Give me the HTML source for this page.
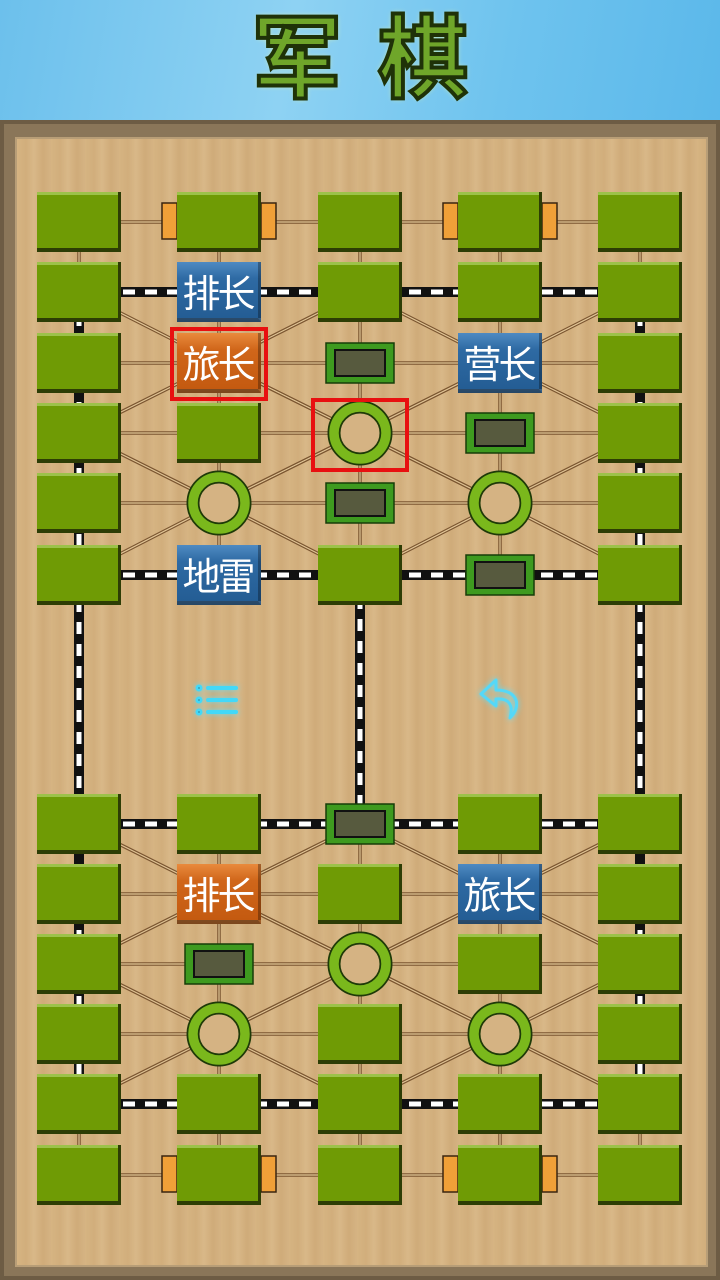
<!DOCTYPE html>
<html><head><meta charset="utf-8">
<style>
html,body{margin:0;padding:0;width:720px;height:1280px;overflow:hidden;background:#7d6b52}
#hdr{position:absolute;left:0;top:0;width:720px;height:120px;background:linear-gradient(100deg,#6cc0ec,#8ed2f3 40%,#6ec3ee 70%,#5bb8ea)}
.t{position:absolute;top:-14px;font:bold 90px "Noto Sans CJK SC","WenQuanYi Zen Hei",sans-serif;color:#6fa62a;-webkit-text-stroke:4px #1f3208;text-shadow:0 0 6px #e8f8a0}
#frame{position:absolute;left:0;top:120px;width:720px;height:1160px;background:#8a7659;box-shadow:inset 0 0 0 4px #6d5c44}
#wood{position:absolute;left:17px;top:139px;width:689px;height:1126px;background:repeating-linear-gradient(90deg,#d6b482 0,#d1ae7c 9px,#d9b888 17px,#cfab79 26px,#d5b383 34px);box-shadow:0 0 0 2px #b89e77}
svg{position:absolute;left:0;top:0}
.p{position:absolute;width:84px;height:60px;box-sizing:border-box;color:#fff;font:38px "Noto Sans CJK SC","WenQuanYi Zen Hei",sans-serif;text-align:center;line-height:58px;letter-spacing:-3px;border-bottom:4px solid rgba(0,0,0,.45);border-right:3px solid rgba(0,0,0,.3)}
.b{background:linear-gradient(#4e8ac2,#2e6aa3 30%,#245d94)}
.o{background:linear-gradient(#e98a3c,#d0661a 30%,#c45a10)}
.hl{position:absolute;border:4px solid #e81010}
</style></head><body>
<div id="hdr"></div>
<div class="t" style="left:252px">军</div>
<div class="t" style="left:378px">棋</div>
<div id="frame"></div>
<div id="wood"></div>
<svg id="s" width="720" height="1280"></svg>
<div class="p b" style="left:177px;top:262px">排长</div>
<div class="p o" style="left:177px;top:333px">旅长</div>
<div class="p b" style="left:458px;top:333px">营长</div>
<div class="p b" style="left:177px;top:545px">地雷</div>
<div class="p o" style="left:177px;top:864px">排长</div>
<div class="p b" style="left:458px;top:864px">旅长</div>
<div class="hl" style="left:170px;top:327px;width:90px;height:66px"></div>
<div class="hl" style="left:311px;top:398px;width:90px;height:66px"></div>
<script>
var X=[79,219,360,500,640];
var T=[222,292,363,433,503,575],B=[824,894,964,1034,1104,1175];
var s='';
function thin(x1,y1,x2,y2){s+=`<line x1="${x1}" y1="${y1}" x2="${x2}" y2="${y2}" stroke="#7a5530" stroke-width="3.5"/><line x1="${x1}" y1="${y1}" x2="${x2}" y2="${y2}" stroke="#e2c697" stroke-width="1.2"/>`}
function rail(x1,y1,x2,y2){s+=`<line x1="${x1}" y1="${y1}" x2="${x2}" y2="${y2}" stroke="#111" stroke-width="10"/><line x1="${x1}" y1="${y1}" x2="${x2}" y2="${y2}" stroke="#fff" stroke-width="5" stroke-dasharray="12 10"/>`}
function half(R,top){
 for(var r=0;r<6;r++){for(var c=0;c<4;c++){var isR=top?(r==1||r==5):(r==0||r==4);if(!isR)thin(X[c],R[r],X[c+1],R[r]);}}
 for(var c=0;c<5;c++)for(var r=0;r<5;r++){var isR=(c==0||c==4)&&(top?(r>=1):(r<4));if(!isR)thin(X[c],R[r],X[c],R[r+1]);}
 var camps=top?[[2,1],[2,3],[3,2],[4,1],[4,3]]:[[3,1],[3,3],[2,2],[1,1],[1,3]];
 camps.forEach(function(p){[[-1,-1],[-1,1],[1,-1],[1,1]].forEach(function(d){thin(X[p[1]],R[p[0]],X[p[1]+d[1]],R[p[0]+d[0]])})});
}
half(T,true);half(B,false);
[T[1],T[5],B[0],B[4]].forEach(function(y){rail(X[0],y,X[4],y)});
rail(X[0],T[1],X[0],B[4]);rail(X[4],T[1],X[4],B[4]);rail(X[2],T[5],X[2],B[0]);
function flag(y){[[162,177],[261,276],[443,458],[542,557]].forEach(function(a){s+=`<rect x="${a[0]}" y="${y-19}" width="${a[1]-a[0]}" height="36" fill="#f0a038" stroke="#3a2510" stroke-width="1.5"/>`})}
flag(222);flag(1175);
var sk={};
var circ=[[360,433],[219,503],[500,503],[360,964],[219,1034],[500,1034]];
var st=[[360,363],[500,433],[360,503],[500,575],[360,824],[219,964]];
var pcs=[[219,292],[219,363],[500,363],[219,575],[219,894],[500,894]];
circ.concat(st,pcs).forEach(function(p){sk[p[0]+','+p[1]]=1});
function tile(x,y){s+=`<rect x="${x-42}" y="${y-30}" width="84" height="60" fill="#2d3d05"/><rect x="${x-42}" y="${y-30}" width="81" height="56" fill="#6f9b05"/><rect x="${x-42}" y="${y-30}" width="81" height="3" fill="#9cc24a"/>`}
[T,B].forEach(function(R){R.forEach(function(y){X.forEach(function(x){if(!sk[x+','+y])tile(x,y)})})});
circ.forEach(function(p){s+=`<circle cx="${p[0]}" cy="${p[1]}" r="26" fill="#d5b383" stroke="#1e3a08" stroke-width="13"/><circle cx="${p[0]}" cy="${p[1]}" r="26" fill="none" stroke="#7ab81c" stroke-width="9.5"/>`});
st.forEach(function(p){s+=`<rect x="${p[0]-34}" y="${p[1]-20}" width="68" height="40" fill="#3e9a1f" stroke="#173d08" stroke-width="1.5"/><rect x="${p[0]-25}" y="${p[1]-13}" width="50" height="26" fill="#575a3e" stroke="#111" stroke-width="2"/>`});
s+=`<g stroke="#43d8f8" stroke-width="4" stroke-linecap="round" style="filter:drop-shadow(0 0 3px #5be0ff)"><line x1="208" y1="688" x2="236" y2="688"/><line x1="208" y1="700" x2="236" y2="700"/><line x1="208" y1="712" x2="236" y2="712"/><circle cx="199" cy="688" r="1.5"/><circle cx="199" cy="700" r="1.5"/><circle cx="199" cy="712" r="1.5"/></g>`;
s+=`<path d="M496 680 L481 694 L496 706 L496 699 C508 698 514 704 510 718 C522 706 518 690 496 690 Z" fill="none" stroke="#55d8f8" stroke-width="3" stroke-linejoin="round" style="filter:drop-shadow(0 0 3px #5be0ff)"/>`;
document.getElementById('s').innerHTML=s;
</script>
</body></html>
